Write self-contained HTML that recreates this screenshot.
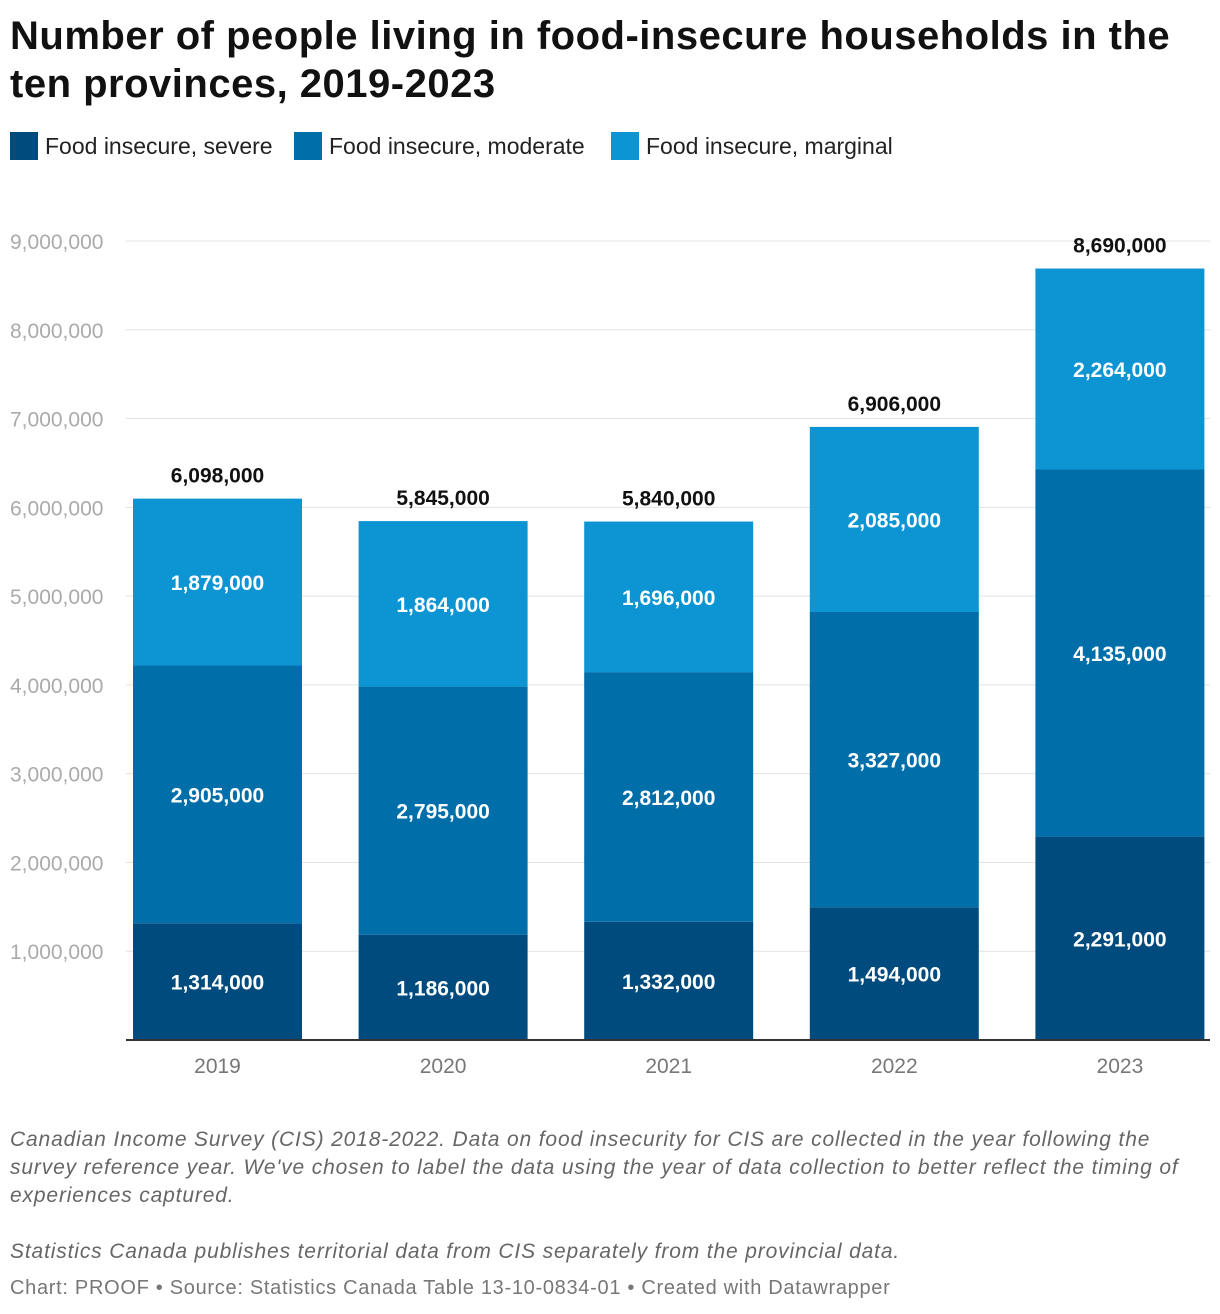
<!DOCTYPE html>
<html><head><meta charset="utf-8">
<style>
body{margin:0;background:#fff;font-family:"Liberation Sans",sans-serif;}
#wrap{position:relative;width:1220px;height:1314px;}
h1{position:absolute;left:10px;top:12px;margin:0;font-size:40px;line-height:48px;font-weight:bold;color:#111;width:1195px;letter-spacing:0.5px}
.leg{position:absolute;top:132px;display:flex;align-items:center;font-size:23px;color:#222}
.leg span.sw{width:28px;height:28px;display:inline-block;margin-right:7px}
.note{position:absolute;left:10px;font-size:21px;font-style:italic;color:#666;line-height:28px;width:1200px;letter-spacing:0.85px}
</style></head><body>
<div id="wrap">
<h1>Number of people living in food-insecure households in the ten provinces, 2019-2023</h1>
<div class="leg" style="left:10px"><span class="sw" style="background:#004b7d"></span>Food insecure, severe</div>
<div class="leg" style="left:294px"><span class="sw" style="background:#006ea8"></span>Food insecure, moderate</div>
<div class="leg" style="left:611px"><span class="sw" style="background:#0c95d2"></span>Food insecure, marginal</div>
<svg id="chart" width="1220" height="1314" style="position:absolute;left:0;top:0"></svg>
<div class="note" style="top:1126px">Canadian Income Survey (CIS) 2018-2022. Data on food insecurity for CIS are collected in the year following the survey reference year. We've chosen to label the data using the year of data collection to better reflect the timing of experiences captured.</div>
<div class="note" style="top:1238px">Statistics Canada publishes territorial data from CIS separately from the provincial data.</div>
<div class="note" style="top:1274px;font-style:normal;font-size:20px;color:#777;letter-spacing:0.7px">Chart: PROOF • Source: Statistics Canada Table 13-10-0834-01 • Created with Datawrapper</div>
</div>
<script>
const years=["2019","2020","2021","2022","2023"];
const severe=[1314000,1186000,1332000,1494000,2291000];
const moderate=[2905000,2795000,2812000,3327000,4135000];
const marginal=[1879000,1864000,1696000,2085000,2264000];
const totals=[6098000,5845000,5840000,6906000,8690000];
const yTicks=[1000000,2000000,3000000,4000000,5000000,6000000,7000000,8000000,9000000];
const NS="http://www.w3.org/2000/svg";
const svg=document.getElementById('chart');
const y=v=>1040-v*(799/9000000);
const x=i=>133+i*225.6;
const bw=169;
const fmt=v=>v.toLocaleString('en-US');
function mk(t,a){const e=document.createElementNS(NS,t);for(const k in a)e.setAttribute(k,a[k]);svg.appendChild(e);return e;}
yTicks.forEach(v=>{
 const l=mk('line',{x1:126,x2:1210,y1:y(v),y2:y(v),stroke:'#e2e2e2','stroke-width':1});
 
 
 const t=mk('text',{x:10,y:y(v)+8,'font-size':21,fill:'#aaa','font-family':'Liberation Sans'});
 t.textContent=fmt(v);
 
 
});
const series=[[severe,'#004b7d','severe'],[moderate,'#006ea8','moderate'],[marginal,'#0c95d2','marginal']];
years.forEach((yr,i)=>{
 let base=0;
 series.forEach(([arr,c,n])=>{
  const v=arr[i];
  const r=mk('rect',{x:x(i),y:y(base+v),width:bw,height:y(base)-y(base+v),fill:c});
  
  
  const t=mk('text',{x:x(i)+bw/2,y:(y(base)+y(base+v))/2+8,'font-size':21,'font-weight':'bold',fill:'#fff','text-anchor':'middle','font-family':'Liberation Sans'});
  t.textContent=fmt(v);
  
  
  base+=v;
 });
 const tt=mk('text',{x:x(i)+bw/2,y:y(totals[i])-16,'font-size':21,'font-weight':'bold',fill:'#111','text-anchor':'middle','font-family':'Liberation Sans'});
 tt.textContent=fmt(totals[i]);
 
 
 const xl=mk('text',{x:x(i)+bw/2,y:1073,'font-size':21,fill:'#777','text-anchor':'middle','font-family':'Liberation Sans'});
 xl.textContent=yr;
 
 
});
const ax=mk('line',{x1:126,x2:1210,y1:1040,y2:1040,stroke:'#333','stroke-width':2});


</script>
</body></html>
